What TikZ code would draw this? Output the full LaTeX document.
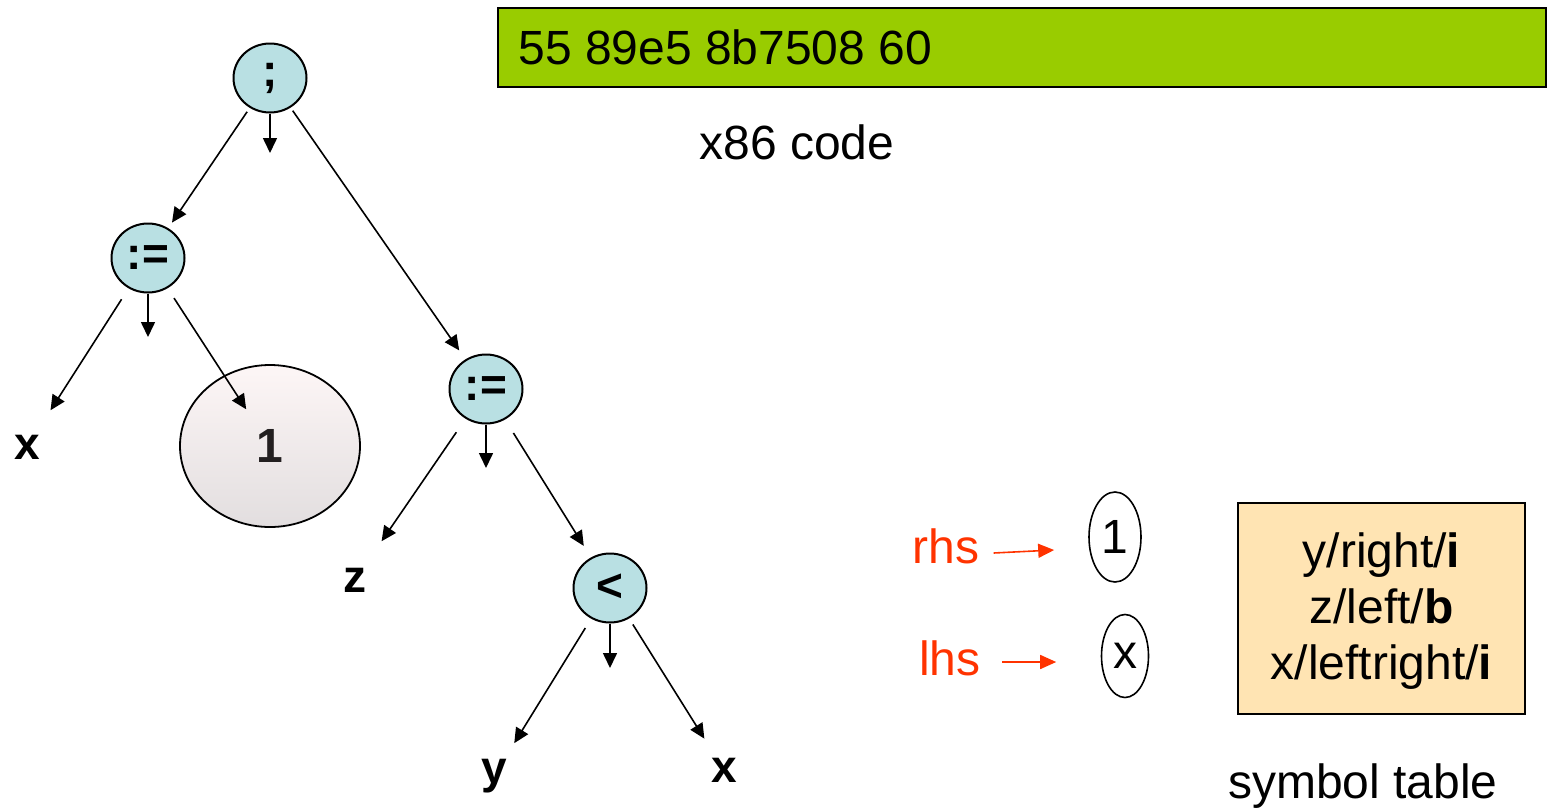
\documentclass[tikz,border=0pt]{standalone}
\usepackage{fontspec}
\setmainfont{Liberation Sans}
\usetikzlibrary{arrows.meta,shapes.geometric}
\definecolor{opblue}{HTML}{B9E0E3}
\definecolor{codegreen}{HTML}{99CC00}
\definecolor{symorange}{HTML}{FFE4B3}
\definecolor{hsred}{HTML}{FF3300}
\definecolor{inkblack}{HTML}{231F20}
\definecolor{bigtop}{HTML}{FDF6F6}
\definecolor{bigbot}{HTML}{E2DEDF}
\newcommand{\oplbl}[1]{\raisebox{-1.8pt}{#1}}
\begin{document}
\begin{tikzpicture}[x=0.5pt,y=-0.5pt,
  op/.style={ellipse,draw,line width=1pt,fill=opblue,minimum width=36.5pt,minimum height=34.5pt,inner sep=0pt,font=\fontsize{23}{27}\selectfont\bfseries},
  leaf/.style={inner sep=0pt,font=\fontsize{23}{27}\selectfont\bfseries},
  arr/.style={line width=0.8pt,-{Triangle[length=7.5pt,width=7pt]}},
  redarr/.style={line width=0.8pt,draw=hsred,-{Triangle[length=8pt,width=7pt]},hsred},
  big/.style={inner sep=0pt,font=\fontsize{24}{28}\selectfont},
  smallell/.style={ellipse,draw,line width=0.8pt,inner sep=0pt,font=\fontsize{24}{28}\selectfont}]
\useasboundingbox (0,0) rectangle (1547,809);

% x86 code box
\node[draw,fill=codegreen,line width=0.8pt,minimum width=524pt,minimum height=39.5pt,inner sep=0pt,anchor=north west] (code) at (497,7) {};
\node[big,anchor=west] (codetxt) at (518,47) {55 89e5 8b7508 60};
\node[big] (x86) at (797,142) {x86 code};

% tree
\node[op] (semi) at (270,78) {\oplbl{;}};
\node[op] (asg1) at (148,258) {\oplbl{:=}};
\node[op] (asg2) at (486,389) {\oplbl{:=}};
\node[op] (lt) at (610,588) {\oplbl{<}};
\node[leaf] (x1) at (27,447) {x};
\node[ellipse,draw,line width=0.9pt,top color=bigtop,bottom color=bigbot,minimum width=90pt,minimum height=81pt,inner sep=0pt,text=inkblack,font=\fontsize{24}{28}\selectfont\bfseries] (one) at (270,446) {1};
\node[leaf] (z) at (355,580) {z};
\node[leaf] (y) at (494,776) {y};
\node[leaf] (x2) at (724,770) {x};

\coordinate (s1) at (270,153);
\coordinate (s2) at (148,337);
\coordinate (s3) at (486,468);
\coordinate (s4) at (610,668);
\draw[arr] (semi.south) -- (s1);
\draw[arr] (asg1.south) -- (s2);
\draw[arr] (asg2.south) -- (s3);
\draw[arr] (lt.south) -- (s4);

\draw[arr,shorten <=20.4pt,shorten >=21.4pt] (semi.center) -- (asg1.center);
\draw[arr,shorten <=19.9pt,shorten >=23.5pt] (semi.center) -- (asg2.center);
\draw[arr,shorten <=24.5pt,shorten >=21.8pt] (asg1.center) -- (x1.center);
\draw[arr,shorten <=23.9pt,shorten >=21.9pt] (asg1.center) -- (one.center);
\draw[arr,shorten <=26.2pt,shorten >=23.5pt] (asg2.center) -- (z.center);
\draw[arr,shorten <=25.9pt,shorten >=24.8pt] (asg2.center) -- (lt.center);
\draw[arr,shorten <=23.5pt,shorten >=19.3pt] (lt.center) -- (y.center);
\draw[arr,shorten <=21.5pt,shorten >=18.5pt] (lt.center) -- (x2.center);

% rhs / lhs
\node[big,text=hsred] (rhs) at (946,546) {rhs};
\node[big,text=hsred] (lhs) at (950,658) {lhs};
\node[smallell,minimum width=26pt,minimum height=45pt] (oneS) at (1115,537) {1};
\node[smallell,minimum width=23.5pt,minimum height=41.5pt] (xS) at (1125,656) {x};
\draw[redarr] ([shift={(6.9pt,-3.5pt)}]rhs.east) -- ([shift={(-17pt,-6.5pt)}]oneS.west);
\draw[redarr] ([shift={(10.5pt,-2pt)}]lhs.east) -- ([shift={(-22.25pt,-3pt)}]xS.west);

% symbol table
\node[draw,fill=symorange,line width=0.8pt,minimum width=143.5pt,minimum height=105.5pt,inner sep=0pt,anchor=north] (sym) at (1381.5,502) {};
\node[inner sep=0pt,align=center,font=\fontsize{24}{28}\selectfont] (symtxt) at (1381.5,611) {y/right/\textbf{i}\\z/left/\textbf{b}\\x/leftright/\textbf{i}};
\node[big] (symlbl) at (1363,786) {symbol table};
\end{tikzpicture}
\end{document}
